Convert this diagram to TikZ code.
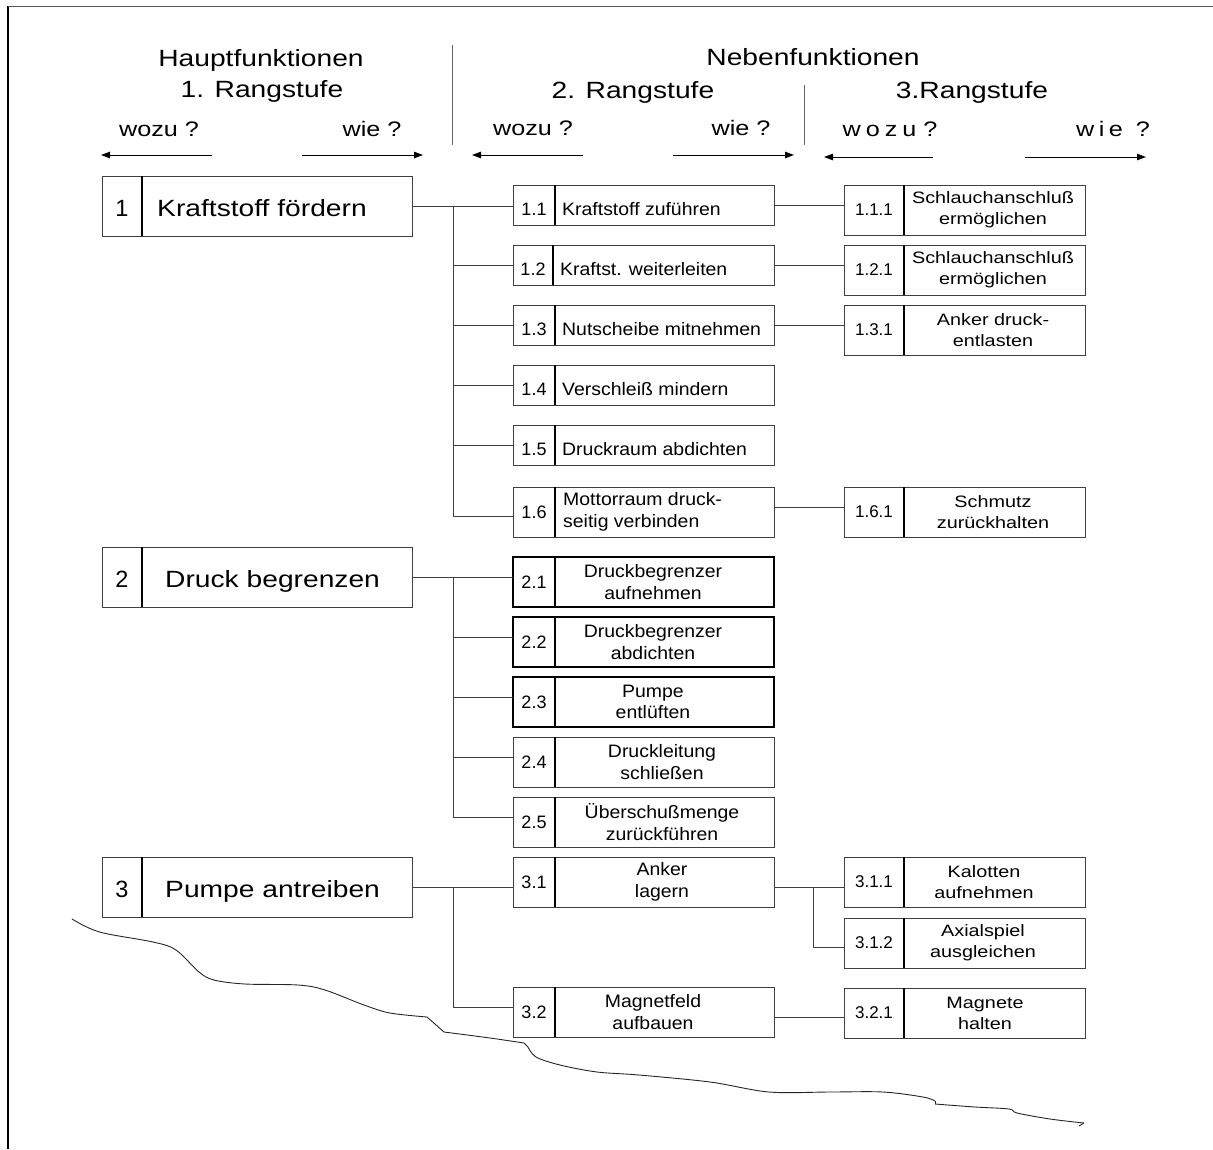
\documentclass[tikz,border=0pt]{standalone}
\usepackage{fontspec}
\setmainfont{Liberation Sans}
\newfontfamily\fw[FakeStretch=1.2]{Liberation Sans}
\newfontfamily\fm[FakeStretch=1.08]{Liberation Sans}
\usetikzlibrary{arrows.meta,calc}

\tikzset{
 boxst/.style={draw=black!75, line width=1pt, inner sep=0pt, outer sep=0pt, anchor=north west},
 thickbox/.style={draw=black, line width=2pt},
 divst/.style={draw=black, line width=1.3pt},
 conn/.style={draw=black!75, line width=1pt},
 hdr/.style={font=\fw\fontsize{23.5}{28}\selectfont, inner sep=0pt, anchor=base},
 ask/.style={font=\fw\fontsize{21}{25}\selectfont, inner sep=0pt, anchor=base},
 arr/.style={line width=1pt, -{Triangle[length=9pt,width=6.5pt]}},
 sepline/.style={draw=black!60, line width=1pt},
 mainnum/.style={font=\fontsize{23.5}{28}\selectfont, inner sep=0pt, anchor=base},
 maintxt/.style={font=\fw\fontsize{23.5}{28}\selectfont, inner sep=0pt, anchor=base west},
 numtwo/.style={font=\fontsize{18}{21}\selectfont, inner sep=0pt},
 txttwo/.style={font=\fm\fontsize{18}{21.5}\selectfont, inner sep=0pt, align=center},
 txttwol/.style={font=\fm\fontsize{18}{21.5}\selectfont, inner sep=0pt, align=left},
 numthree/.style={font=\fontsize{17}{20}\selectfont, inner sep=0pt},
 txtthree/.style={font=\fw\fontsize{16.5}{21}\selectfont, inner sep=0pt, align=center},
 wave/.style={line width=0.9pt, black!85},
}

% main box: name, top, number, text, text x
\newcommand\mainbox[5]{%
 \node[boxst, minimum width=310pt, minimum height=60pt] (#1) at (102,#2) {};
 \draw[divst] ([xshift=40pt]#1.north west) -- ([xshift=40pt]#1.south west);
 \node[mainnum] (#1n) at (122,#2+40.5) {#3};
 \node[maintxt] (#1t) at (#5,#2+40.5) {#4};
}
% level 2 single line: name, top, divider offset, number, text
\newcommand\twoL[5]{%
 \node[boxst, minimum width=261pt, minimum height=40pt] (#1) at (513,#2) {};
 \draw[divst] ([xshift=#3pt]#1.north west) -- ([xshift=#3pt]#1.south west);
 \node[numtwo, anchor=base] (#1n) at (513+#3/2,#2+30.7) {#4};
 \node[txttwol, anchor=base west] (#1t) at (513+#3+7,#2+30.7) {#5};
}
% level 2 two lines centred: name, top, box style, number, text, text x
\newcommand\twoC[6]{%
 \node[boxst, #3, minimum width=261pt, minimum height=50pt] (#1) at (513,#2) {};
 \draw[divst] ([xshift=42pt]#1.north west) -- ([xshift=42pt]#1.south west);
 \node[numtwo] (#1n) at (534,#2+25) {#4};
 \node[txttwo] (#1t) at (#6,#2+25) {#5};
}
% level 3: name, top, number, text, text x
\newcommand\three[5]{%
 \node[boxst, minimum width=241pt, minimum height=50pt] (#1) at (844,#2) {};
 \draw[divst] ([xshift=60pt]#1.north west) -- ([xshift=60pt]#1.south west);
 \node[numthree] (#1n) at (874,#2+25) {#3};
 \node[txtthree] (#1t) at (#5,#2+25) {#4};
}

\begin{document}
\begin{tikzpicture}[x=1pt,y=-1pt]
\useasboundingbox (0,0) rectangle (1213,1149);
% frame
\draw[line width=1.2pt] (8,6) -- (8,1149);
\draw[line width=1pt, black!65] (8,6) -- (1213,6);

% headers
\node[hdr] (hf) at (261,66.5) {Hauptfunktionen};
\node[hdr] (r1) at (262,97.5) {1. Rangstufe};
\node[hdr] (nf) at (813,65) {Nebenfunktionen};
\node[hdr] (r2) at (633,98) {2. Rangstufe};
\node[hdr] (r3) at (972,98) {3.Rangstufe};
\node[ask] (wz1) at (159,136) {wozu ?};
\node[ask] (wi1) at (372,136) {wie ?};
\node[ask] (wz2) at (533,135) {wozu ?};
\node[ask] (wi2) at (741,135) {wie ?};
\node[ask] (wz3) at (890,136) {w\kern5pt o\kern5pt z\kern5pt u ?};
\node[ask] (wi3) at (1113,136) {w\kern4.5pt i\kern4.5pt e\kern6pt\ ?};

\draw[sepline] (452,45) -- (452,145);
\draw[sepline] (804,85) -- (804,145);

\coordinate (a1a) at (212,155); \coordinate (a1b) at (101,155);
\coordinate (a2a) at (302,155); \coordinate (a2b) at (423,155);
\coordinate (a3a) at (583,155); \coordinate (a3b) at (472,155);
\coordinate (a4a) at (673,155); \coordinate (a4b) at (794,155);
\coordinate (a5a) at (933,157); \coordinate (a5b) at (824,157);
\coordinate (a6a) at (1025,157); \coordinate (a6b) at (1146,157);
\foreach \i in {1,...,6} \draw[arr] (a\i a) -- (a\i b);

% main boxes
\mainbox{m1}{176}{1}{Kraftstoff fördern}{157}
\mainbox{m2}{547}{2}{Druck begrenzen}{165}
\mainbox{m3}{857}{3}{Pumpe antreiben}{165}

% level 2
\twoL{n11}{185}{42}{1.1}{Kraftstoff zuführen}
\twoL{n12}{245}{40}{1.2}{Kraftst. weiterleiten}
\twoL{n13}{305}{42}{1.3}{Nutscheibe mitnehmen}
\twoL{n14}{365}{42}{1.4}{Verschleiß mindern}
\twoL{n15}{425}{42}{1.5}{Druckraum abdichten}
\node[boxst, minimum width=261pt, minimum height=50pt] (n16) at (513,487) {};
\draw[divst] ([xshift=42pt]n16.north west) -- ([xshift=42pt]n16.south west);
\node[numtwo] (n16n) at (534,512) {1.6};
\node[txttwol, anchor=west] (n16t) at (563,512) {Mottorraum druck-\\seitig verbinden};
\twoC{n21}{557}{thickbox}{2.1}{Druckbegrenzer\\aufnehmen}{653}
\twoC{n22}{617}{thickbox}{2.2}{Druckbegrenzer\\abdichten}{653}
\twoC{n23}{677}{thickbox}{2.3}{Pumpe\\entlüften}{653}
\twoC{n24}{737}{}{2.4}{Druckleitung\\schließen}{662}
\twoC{n25}{797}{}{2.5}{Überschußmenge\\zurückführen}{662}
\twoC{n31}{857}{}{3.1}{Anker\\lagern}{662}
\twoC{n32}{987}{}{3.2}{Magnetfeld\\aufbauen}{653}

% level 3
\three{n111}{185}{1.1.1}{Schlauchanschluß\\ermöglichen}{993}
\three{n121}{245}{1.2.1}{Schlauchanschluß\\ermöglichen}{993}
\three{n131}{305}{1.3.1}{Anker druck-\\entlasten}{993}
\three{n161}{487}{1.6.1}{Schmutz\\zurückhalten}{993}
\three{n311}{857}{3.1.1}{Kalotten\\aufnehmen}{984}
\three{n312}{918}{3.1.2}{Axialspiel\\ausgleichen}{983}
\three{n321}{988}{3.2.1}{Magnete\\halten}{985}

% connectors
\coordinate (b1) at (453,0);
\coordinate (b2) at (813,0);
\draw[conn] (m1.east) -- (m1.east -| n11.west);
\draw[conn] (m1.east -| b1) |- ([yshift=-4pt]n16.west);
\foreach \n in {n12,n13,n14,n15} \draw[conn] (\n.west -| b1) -- (\n.west);

\draw[conn] (m2.east) -- (m2.east -| n21.west);
\draw[conn] (m2.east -| b1) |- ([yshift=5pt]n25.west);
\foreach \n in {n22,n23,n24} \draw[conn] ([yshift=5pt]\n.west -| b1) -- ([yshift=5pt]\n.west);

\draw[conn] (m3.east) -- (m3.east -| n31.west);
\draw[conn] (m3.east -| b1) |- ([yshift=5pt]n32.west);

\draw[conn] (n11.east) -- (n11.east -| n111.west);
\draw[conn] (n12.east) -- (n12.east -| n121.west);
\draw[conn] (n13.east) -- (n13.east -| n131.west);
\draw[conn] ([yshift=5pt]n16.east) -- ([yshift=5pt]n16.east -| n161.west);
\draw[conn] ([yshift=-5pt]n31.east) -- ([yshift=-5pt]n31.east -| n311.west);
\draw[conn] ([yshift=-5pt]n31.east -| b2) |- ([yshift=-4pt]n312.west);
\draw[conn] ([yshift=-5pt]n32.east) -- ([yshift=-5pt]n32.east -| n321.west);

% break line
\draw[wave] plot[smooth, tension=0.55] coordinates {(72,919) (99.5,932) (153,942) (176,950) (199,972) (214,980) (245,984) (298,985) (325,990) (364,1005) (390,1013) (427,1017)};
\draw[wave] (427,1017) -- (444,1032);
\draw[wave] plot[smooth, tension=0.55] coordinates {(444,1032) (490,1038) (524,1043)};
\draw[wave] (524,1043) -- (528,1047);
\draw[wave] plot[smooth, tension=0.55] coordinates {(528,1047) (536,1057) (560,1065) (597,1072) (639,1075) (710,1082) (769,1092) (830,1092) (883,1092) (923,1097) (935,1101)};
\draw[wave] (935,1101) -- (935,1104);
\draw[wave] plot[smooth, tension=0.55] coordinates {(935,1104) (975,1107) (1009,1109) (1017,1113) (1050,1119) (1084,1123)};
\draw[wave] (1084,1123) -- (1079,1126);
\end{tikzpicture}
\end{document}
